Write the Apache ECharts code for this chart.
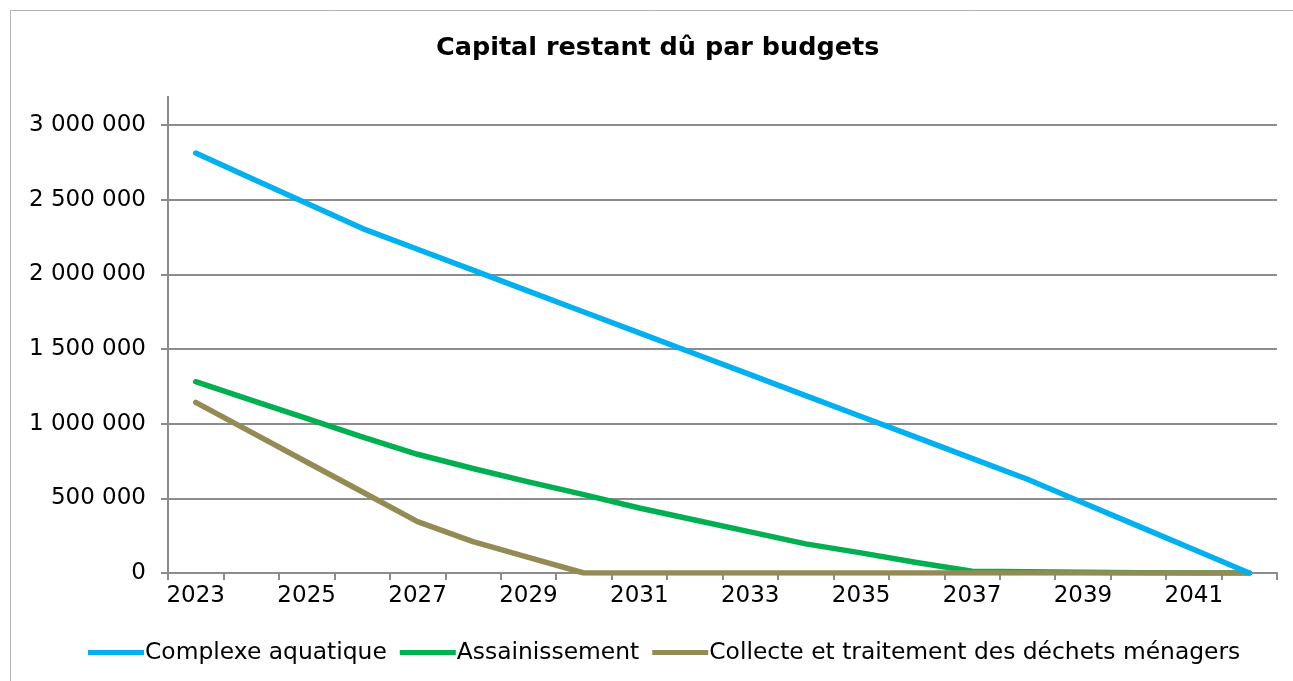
<!DOCTYPE html>
<html>
<head>
<meta charset="utf-8">
<script src="https://cdn.jsdelivr.net/npm/echarts@6/dist/echarts.min.js"></script>
<style>
  html, body { margin: 0; padding: 0; background: #fff; }
  #chart { width: 1293px; height: 681px; }
</style>
</head>
<body>
<div id="chart"></div>
<script>
// capital restant dû, en euros
const years = ["2023", "2024", "2025", "2026", "2027", "2028", "2029", "2030", "2031", "2032",
  "2033", "2034", "2035", "2036", "2037", "2038", "2039", "2040", "2041", "2042"];

const aquatique = [2812000, 2644000, 2476000, 2308000, 2168000, 2028000, 1888000, 1748000, 1608000, 1468000,
  1328000, 1188000, 1048000, 908000, 768000, 628000, 471000, 314000, 157000, 0];

const assainissement = [1281000, 1158000, 1035000, 912000, 795000, 700000, 610000, 525000, 435000, 355000,
  275000, 195000, 135000, 70000, 12000, 8000, 5000, 2000, 0, 0];

const dechets = [1143000, 943000, 743000, 544000, 344000, 210000, 105000, 0, 0, 0,
  0, 0, 0, 0, 0, 0, 0, 0, 0, 0];

const seriesNames = ["Complexe aquatique", "Assainissement", "Collecte et traitement des déchets ménagers"];
const colors = ["#00b0f0", "#00b050", "#948a54"];

const gray = "#8c8c8c";
const font = "DejaVu Sans";

const chart = echarts.init(document.getElementById("chart"));

const fmt = v => String(v).replace(/\B(?=(\d{3})+(?!\d))/g, " ");

chart.setOption({
  animation: false,
  color: colors,
  title: {
    text: "Capital restant dû par budgets",
    left: 431,
    top: 30,
    textStyle: { fontFamily: font, fontSize: 25.5, fontWeight: "bold", color: "#000" }
  },
  legend: {
    bottom: 12,
    left: 83,
    itemWidth: 56,
    itemHeight: 5,
    itemGap: 13,
    icon: "rect",
    textStyle: { fontFamily: font, fontSize: 23.4, color: "#000", padding: [0, 0, 0, -4] },
    data: seriesNames
  },
  grid: { left: 168, right: 16, top: 125, bottom: 108 },
  xAxis: {
    type: "category",
    data: years,
    boundaryGap: true,
    axisLine: { lineStyle: { color: gray, width: 2 } },
    axisTick: { show: true, interval: 0, length: 7, lineStyle: { color: gray, width: 2 } },
    axisLabel: { interval: 1, margin: 12, fontFamily: font, fontSize: 23, color: "#000" },
    splitLine: { show: false }
  },
  yAxis: {
    type: "value",
    min: 0,
    max: 3000000,
    interval: 500000,
    axisLine: { show: true, lineStyle: { color: gray, width: 2 } },
    axisTick: { show: true, length: 7, lineStyle: { color: gray, width: 2 } },
    axisLabel: { margin: 22, fontFamily: font, fontSize: 23, color: "#000", formatter: fmt },
    splitLine: { show: true, lineStyle: { color: gray, width: 2 } }
  },
  graphic: [
    // cadre du graphique
    { type: "rect", shape: { x: 10.5, y: 10.5, width: 1400, height: 800 },
      style: { fill: null, stroke: "#b4b4b4", lineWidth: 1 }, silent: true },
    // l'axe vertical dépasse un peu la dernière graduation
    { type: "line", shape: { x1: 168, y1: 96, x2: 168, y2: 126 },
      style: { stroke: gray, lineWidth: 2 }, silent: true }
  ],
  series: [
    { name: seriesNames[0], type: "line", data: aquatique, symbol: "none",
      lineStyle: { width: 5.5, cap: "round", join: "round" }, z: 4 },
    { name: seriesNames[1], type: "line", data: assainissement, symbol: "none",
      lineStyle: { width: 5.5, cap: "round", join: "round" }, z: 2 },
    { name: seriesNames[2], type: "line", data: dechets, symbol: "none",
      lineStyle: { width: 5.5, cap: "round", join: "round" }, z: 3 }
  ]
});
</script>
</body>
</html>
